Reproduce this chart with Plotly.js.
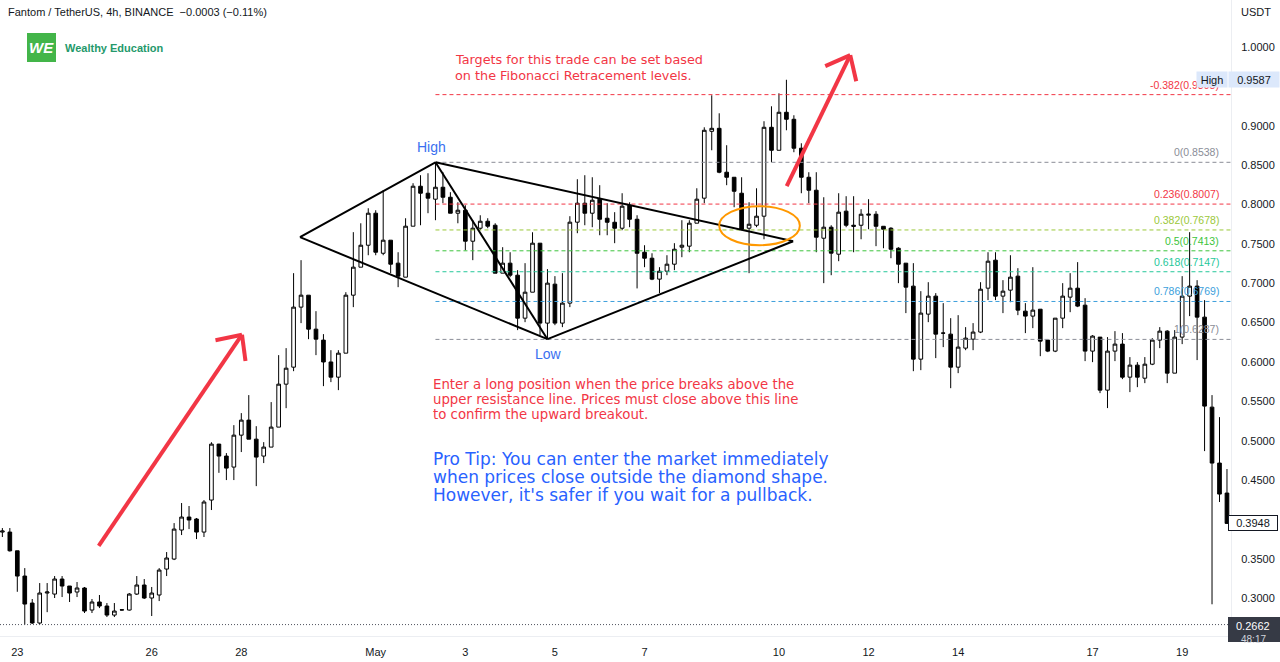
<!DOCTYPE html>
<html><head><meta charset="utf-8">
<script src="https://cdn.plot.ly/plotly-3.0.1.min.js"></script>
<style>html,body{margin:0;padding:0;background:#fff;} #chart{width:1280px;height:662px;}</style>
</head><body><div id="chart"></div>
<script>
// ---- DATA (FTM/USDT 4h, candles from 2021-04-22 16:00) ----
const firstIdx = -2; // index relative to 2021-04-23 00:00, 4h per step
const open = [
.3838,.3838,.3600,.3279,.2936,.2682,.3063,.3050,.3241,.3152,
.3076,.3127,.2847,.2949,.2898,.2783,.2847,.2847,.3050,.3165,
.3000,.3038,.3368,.3495,.3864,.4029,.4004,.3838,.4245,.4956,
.4804,.4664,.5070,.5261,.5019,.4804,.4918,.5172,.5718,.5934,
.6697,.6849,.6417,.6278,.6000,.5807,.6112,.6849,.7205,.7484,
.7891,.7382,.7548,.7256,.7078,.7726,.8234,.8145,.8069,.8221,
.8094,.7891,.7929,.7535,.7700,.7789,.7738,.7129,.7256,.7103,
.6557,.6887,.7510,.6494,.6989,.6494,.6748,.7777,.8018,.7891,
.8069,.7827,.7776,.7700,.7992,.7814,.7395,.7319,.7053,.7154,
.7243,.7459,.7472,.7764,.8082,.8932,.8970,.8412,.8348,.8145,
.7700,.7738,.7853,.8983,.8691,.9174,.9085,.8717,.8348,.8183,
.7573,.7713,.7370,.7917,.7738,.7738,.7866,.7878,.7725,.7700,
.7446,.7256,.6964,.6036,.6608,.6837,.6367,.6354,.5934,.6176,
.6290,.6380,.6938,.7294,.6837,.6913,.7091,.6646,.6583,.6671,
.6278,.6138,.6557,.6824,.6938,.6722,.6138,.6316,.5642,.6138,
.6227,.5807,.5960,.5794,.5972,.6278,.6392,.5858,.6316,.6837,
.6964,.6570,.5426,.4715,.4334];
const high = [
.3889,.3889,.3600,.3380,.2987,.3190,.3190,.3279,.3279,.3152,
.3203,.3140,.2987,.3038,.2936,.2936,.2855,.3063,.3279,.3241,
.3140,.3380,.3584,.3952,.4207,.4169,.4017,.4245,.4980,.4960,
.4842,.5197,.5350,.5579,.5184,.4981,.5490,.6087,.6176,.7129,
.7294,.6849,.6646,.6354,.6150,.6150,.6887,.7650,.7763,.7954,
.7929,.8183,.7548,.7395,.7827,.8272,.8374,.8399,.8538,.8412,
.8158,.8030,.7992,.7802,.7865,.7827,.7763,.7459,.7395,.7167,
.7256,.7649,.7510,.7180,.7091,.7129,.7853,.8323,.8374,.8348,
.8247,.8018,.7904,.8145,.8030,.7865,.7484,.7382,.7205,.7357,
.7510,.7802,.7802,.8208,.8983,.9390,.9161,.8755,.8348,.8348,
.8030,.8208,.9060,.9250,.9415,.9587,.9136,.8780,.8412,.8412,
.8094,.7738,.8145,.8107,.8107,.7942,.8069,.7917,.7725,.7713,
.7459,.7256,.7256,.6900,.7014,.6875,.6748,.6557,.6595,.6443,
.6494,.7014,.7395,.7395,.7040,.7357,.7192,.6748,.7205,.6671,
.6278,.6557,.7002,.7129,.7269,.6811,.6341,.6316,.6316,.6392,
.6367,.6062,.5998,.6062,.6303,.6443,.6405,.6405,.7091,.7650,
.7040,.6786,.5579,.5299,.4639];
const low = [
.3775,.3590,.3079,.2662,.2670,.2665,.2820,.3000,.3012,.2949,
.3012,.2809,.2809,.2872,.2758,.2758,.2840,.2840,.3038,.2987,
.2771,.2961,.3279,.3482,.3800,.3876,.3749,.3775,.4118,.4591,
.4499,.4499,.4855,.5019,.4422,.4715,.4918,.5172,.5413,.5883,
.6494,.6290,.6087,.5693,.5744,.5642,.6112,.6697,.7205,.7357,
.7357,.7357,.7129,.6951,.7078,.7726,.7738,.7891,.7802,.8018,
.7891,.7763,.7420,.7294,.7675,.7700,.7129,.7129,.7078,.6405,
.6506,.6887,.6341,.6287,.6468,.6443,.6697,.7637,.7738,.7713,
.7611,.7611,.7510,.7675,.7713,.6935,.7205,.7040,.6875,.7103,
.7167,.7332,.7395,.7764,.8018,.8691,.8399,.8247,.7967,.7675,
.7129,.7713,.7560,.8539,.8691,.8945,.8666,.8145,.8018,.7395,
.7002,.7103,.7281,.7713,.7395,.7560,.7687,.7472,.7446,.7319,
.7002,.6621,.5883,.5896,.6506,.6049,.6189,.5667,.5858,.6150,
.6150,.6367,.6786,.6786,.6621,.6760,.6595,.6367,.6430,.6074,
.6125,.6125,.6430,.6633,.6697,.6011,.5998,.5604,.5414,.6011,
.5782,.5617,.5680,.5731,.5960,.6176,.5731,.5858,.6227,.6583,
.6024,.4867,.2920,.4220,.3948];
const close = [
.3851,.3600,.3279,.2923,.2682,.3063,.3076,.3241,.3152,.3063,
.3127,.2834,.2949,.2898,.2783,.2834,.2850,.3050,.3165,.3000,
.3063,.3355,.3508,.3876,.4029,.3991,.3838,.4220,.4956,.4804,
.4651,.5070,.5261,.5019,.4791,.4918,.5172,.5718,.5921,.6697,
.6849,.6417,.6290,.6000,.5807,.6112,.6849,.7205,.7484,.7891,
.7395,.7548,.7243,.7091,.7726,.8234,.8145,.8082,.8221,.8094,
.7891,.7929,.7535,.7700,.7789,.7726,.7129,.7256,.7103,.6557,
.6887,.7510,.6494,.7002,.6494,.6748,.7777,.8018,.7891,.8056,
.7814,.7776,.7700,.7980,.7814,.7382,.7319,.7053,.7154,.7243,
.7433,.7484,.7764,.8069,.8945,.8970,.8412,.8348,.8170,.7687,
.7751,.7853,.8983,.8691,.9174,.9085,.8717,.8348,.8183,.7586,
.7713,.7383,.7904,.7738,.7725,.7878,.7878,.7725,.7687,.7433,
.7243,.6951,.6036,.6621,.6837,.6354,.6367,.5934,.6189,.6303,
.6380,.6925,.7281,.6837,.6900,.7078,.6659,.6583,.6659,.6265,
.6138,.6557,.6837,.6938,.6710,.6138,.6329,.5642,.6138,.6227,
.5807,.5960,.5807,.5972,.6278,.6392,.5858,.6316,.6837,.6964,
.6570,.5439,.4715,.4321,.3948];

const xTickDates = ['2021-04-23','2021-04-26','2021-04-28','2021-05-01','2021-05-03','2021-05-05','2021-05-07','2021-05-10','2021-05-12','2021-05-14','2021-05-17','2021-05-19'];
const xTickText  = ['23','26','28','May','3','5','7','10','12','14','17','19'];
// price-scale labels (0.4000 and 0.9500 sit under the price boxes)
const yTickVals = [0.30,0.35,0.45,0.50,0.55,0.60,0.65,0.70,0.75,0.80,0.85,0.90,1.00];

// Fibonacci retracement (High 0.8538 -> Low 0.6287)
const fibRatios = [-0.382, 0, 0.236, 0.382, 0.5, 0.618, 0.786, 1];
const fibValues = [0.9398, 0.8538, 0.8007, 0.7678, 0.7413, 0.7147, 0.6769, 0.6287];
const fibColors = ['#f23645','#8a8d97','#f23645','#9bc83a','#3cc43c','#25c79a','#3d9fdc','#8a8d97'];

const lastPrice = 0.3948, highPrice = 0.9587, lowMark = 0.2662;

// ---- helpers ----
const T0 = Date.UTC(2021,3,23,0,0,0);
function t(i){ return new Date(T0 + i*4*3600e3).toISOString().slice(0,19).replace('T',' '); }
const dates = open.map((_,k)=>t(firstIdx+k));
const XL = -2.317, XR = 162.54;
const PW = 1231, PH = 636;
const FONT = 'Liberation Sans, Arial, sans-serif';
const WIDE = 'DejaVu Sans, Verdana, sans-serif';
function ax(x){return x/PW;} function ay(y){return 1-y/PH;}
function txt(x,y,text,size,color,xanchor,extra,fam){
  return Object.assign({xref:'paper',yref:'paper',x:ax(x),y:ay(y),text:text,showarrow:false,
    xanchor:xanchor||'left',yanchor:'middle',font:{family:fam||FONT,size:size,color:color}},extra||{});
}
function seg(i0,p0,i1,p1,color,width,dash){
  return {type:'line',xref:'x',yref:'y',x0:t(i0),y0:p0,x1:t(i1),y1:p1,line:{color:color,width:width,dash:dash||'solid'},layer:'above'};
}

const shapes = [];
fibValues.forEach((v,k)=>shapes.push(seg(56,v,XR,v,fibColors[k],1,'4px,3px')));
shapes.push(seg(XL,lowMark,XR,lowMark,'#50535e',1,'1px,2px'));
const dk='#000000';
shapes.push(seg(37.86,0.7586,56,0.8538,dk,2));
shapes.push(seg(56,0.8538,103.9,0.7535,dk,2));
shapes.push(seg(37.86,0.7586,71,0.6290,dk,2));
shapes.push(seg(71,0.6290,103.9,0.7535,dk,2));
shapes.push(seg(56,0.8538,71,0.6290,dk,2));
const rd='#f23645';
shapes.push(seg(10.90,0.3664,30.09,0.6347,rd,4));
shapes.push(seg(26.54,0.6277,30.09,0.6347,rd,4));
shapes.push(seg(30.56,0.6011,30.09,0.6347,rd,4));
shapes.push(seg(103.04,0.8234,111.55,0.9900,rd,4));
shapes.push(seg(108.20,0.9760,111.55,0.9900,rd,4));
shapes.push(seg(112.35,0.9569,111.55,0.9900,rd,4));
shapes.push({type:'circle',xref:'x',yref:'y',x0:t(94.0),x1:t(104.8),y0:0.7484,y1:0.7980,line:{color:'#ff9800',width:2},layer:'above'});
shapes.push({type:'rect',xref:'paper',yref:'paper',x0:ax(27),x1:ax(56),y0:ay(62),y1:ay(33),fillcolor:'#43b549',line:{width:0}});
shapes.push({type:'rect',xref:'paper',yref:'paper',x0:ax(1228),x1:ax(1280),y0:ay(642),y1:ay(617),fillcolor:'#363a45',line:{width:0}});

const annotations = [];
annotations.push(txt(6,12,'Fantom / TetherUS, 4h, BINANCE\u00a0\u00a0\u22120.0003 (\u22120.11%)',11,'#131722'));
annotations.push(txt(41.5,47.5,'<b><i>WE</i></b>',15,'#ffffff','center'));
annotations.push(txt(63,48,'<b>Wealthy Education</b>',11,'#24996b'));
annotations.push(txt(1239,12,'USDT',11,'#131722'));
fibValues.forEach((v,k)=>{
  annotations.push({xref:'x',yref:'y',x:t(161.2),y:v,yanchor:'bottom',xanchor:'right',yshift:2,showarrow:false,
    text:fibRatios[k]+'('+v.toFixed(4)+')',font:{family:FONT,size:10.5,color:fibColors[k]}});
});
annotations.push(txt(1211.5,80,'High',11,'#131722','center',{bgcolor:'#dce8fb',width:30,height:15,borderpad:0}));
annotations.push(txt(1228,80,highPrice.toFixed(4),11,'#131722','left',{bgcolor:'#dce8fb',width:50,height:15,borderpad:0}));
annotations.push(txt(1228,522.5,lastPrice.toFixed(4),11,'#131722','left',{bgcolor:'#ffffff',bordercolor:'#131722',borderwidth:1,width:48,height:14,borderpad:0}));
annotations.push(txt(1253,626,lowMark.toFixed(4),11,'#ffffff','center'));
annotations.push(txt(1253,639,'48:17',10,'#d1d4dc','center'));
annotations.push(txt(431,147,'High',14,'#3a70f0','center'));
annotations.push(txt(548,354,'Low',14,'#3a70f0','center'));
annotations.push(txt(453,60,'Targets for this trade can be set based',12.8,'#f23645','left',null,WIDE));
annotations.push(txt(453,76,'on the Fibonacci Retracement levels.',12.8,'#f23645','left',null,WIDE));
annotations.push(txt(431,384,'Enter a long position when the price breaks above the',13.3,'#f23645','left',null,WIDE));
annotations.push(txt(431,399,'upper resistance line. Prices must close above this line',13.3,'#f23645','left',null,WIDE));
annotations.push(txt(431,414,'to confirm the upward breakout.',13.3,'#f23645','left',null,WIDE));
annotations.push(txt(431,459,'Pro Tip: You can enter the market immediately',17,'#2962ff','left',null,WIDE));
annotations.push(txt(431,477,'when prices close outside the diamond shape.',17,'#2962ff','left',null,WIDE));
annotations.push(txt(431,495,"However, it's safer if you wait for a pullback.",17,'#2962ff','left',null,WIDE));

const trace = {
  type:'candlestick', x:dates, open:open, high:high, low:low, close:close,
  increasing:{line:{color:'#000000',width:1},fillcolor:'#ffffff'},
  decreasing:{line:{color:'#000000',width:1},fillcolor:'#000000'},
  whiskerwidth:0, hoverinfo:'skip', showlegend:false
};

const layout = {
  width:1280, height:662,
  margin:{l:0,r:49,t:0,b:26,autoexpand:false},
  paper_bgcolor:'#ffffff', plot_bgcolor:'#ffffff',
  font:{family:FONT,color:'#131722'},
  showlegend:false,
  xaxis:{type:'date',range:[t(XL),t(XR)],rangeslider:{visible:false},showgrid:false,zeroline:false,
    tickmode:'array',tickvals:xTickDates,ticktext:xTickText,ticks:'outside',ticklen:6,tickcolor:'rgba(0,0,0,0)',
    tickfont:{family:FONT,size:11,color:'#131722'},showline:true,linecolor:'#eceef2',linewidth:1,fixedrange:true},
  yaxis:{side:'right',range:[0.2517,1.0601],showgrid:false,zeroline:false,tickmode:'array',tickvals:yTickVals,tickformat:'.4f',
    ticks:'outside',ticklen:7,tickcolor:'rgba(0,0,0,0)',tickfont:{family:FONT,size:11,color:'#131722'},
    showline:true,linecolor:'#eceef2',linewidth:1,fixedrange:true},
  shapes:shapes, annotations:annotations
};
Plotly.newPlot('chart',[trace],layout,{displayModeBar:false,staticPlot:true});
</script></body></html>
